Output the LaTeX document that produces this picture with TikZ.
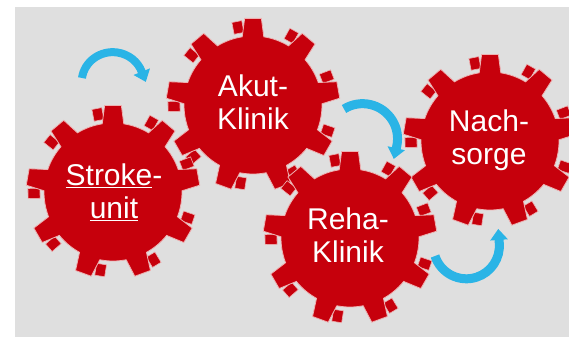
\documentclass[tikz,border=0pt]{standalone}
\usepackage{fontspec}
\setsansfont{Liberation Sans}
\usetikzlibrary{arrows.meta}
\definecolor{cGear}{RGB}{198,0,12}
\definecolor{cEdge}{RGB}{238,178,178}
\definecolor{cBack}{RGB}{223,223,223}
\definecolor{cArrow}{RGB}{42,180,230}

\begin{document}
\begin{tikzpicture}[
  x=1pt, y=1pt,
  glabel/.style = {text=white, align=center, inner sep=0pt,
                   font=\sffamily\fontsize{30}{33}\selectfont},
  flow/.style   = {-{Triangle[width=17pt, length=11pt]}, line width=8pt, cArrow},
  gear/.pic     = {
    % die Flanken hinter den Zaehnen
    \foreach \a in {90,130,...,410}
      \filldraw[fill=cGear, draw=cEdge, line width=0.6pt, rotate=\a+11]
        (73,-5) rectangle (85,5);
    % Scheibe mit neun Zaehnen
    \filldraw[fill=cGear, draw=cEdge, line width=0.8pt]
      (81:69) \foreach \a in {90,130,...,410} {
        -- (\a-9:69) -- (\a-5.5:87) -- (\a+5.5:87) -- (\a+9:69)
        arc[start angle=\a+9, end angle=\a+31, radius=69]} -- cycle;
  }
]

% ------------------------------------------------------------ Hintergrund --
\fill[white] (0,0) rectangle (569,337);
\useasboundingbox (0,0) rectangle (569,337);
\fill[cBack] (15,0) rectangle (569,330);

% ------------------------------------------------------------ Zahnraeder --
\pic at (253,232) {gear};
\pic at (113,145) {gear};
\pic at (490,196) {gear};
\pic at (350,99)  {gear};

\node[glabel] (akut)   at (253,235) {Akut-\\Klinik};
\node[glabel] (stroke) at (114,145) {\underline{Stroke}-\\\underline{unit}};
\node[glabel] (nach)   at (489,197) {Nach-\\sorge};
\node[glabel] (reha)   at (348,102) {Reha-\\Klinik};

% ---------------------------------------------------------------- Pfeile --
\coordinate (t1) at (82,259);
\coordinate (t2) at (344,228);
\coordinate (t3) at (435,81);

\draw[flow] (t1) arc[start angle=172, end angle=20, x radius=31, y radius=30]
  -- ++(4,-10);
\draw[flow, line width=9pt] (t2) arc[start angle=122, end angle=-12, radius=35]
  -- ++(-3,-13);
\draw[flow, line width=9pt] (t3) arc[start angle=198, end angle=365, radius=33]
  -- ++(-1,14);

\end{tikzpicture}
\end{document}
